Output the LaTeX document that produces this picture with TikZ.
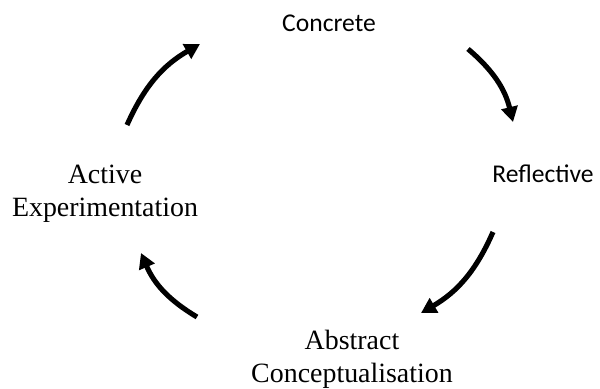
\documentclass[tikz,border=0pt]{standalone}
\usepackage{fontspec}
\setmainfont{Liberation Serif}
\newfontfamily\calfont{Carlito}
\usetikzlibrary{arrows.meta}
\begin{document}
\begin{tikzpicture}[x=0.43pt,y=0.43pt,>={Triangle[length=6.5pt,width=7pt]},
  stage/.style={inner sep=0pt,anchor=base,align=center,font=\fontsize{12}{14.6}\selectfont},
  cyc/.style={->,line width=2.2pt,bend left=18}]
\useasboundingbox (0,0) rectangle (600,389);
\node[stage,font=\calfont\fontsize{11}{13}\selectfont] (concrete) at (329,357) {Concrete};
\node[stage,font=\calfont\fontsize{11}{13}\selectfont] (reflective) at (543,206) {Reflective};
\node[stage] (abstract) at (352,6) {Abstract\\Conceptualisation};
\node[stage] (active) at (105,172) {Active\\Experimentation};
% arrow ends
\coordinate (a1) at (127,264); \coordinate (b1) at (200,345);
\coordinate (a2) at (468,340); \coordinate (b2) at (513,267);
\coordinate (a3) at (493,157); \coordinate (b3) at (421,76);
\coordinate (a4) at (197,72);  \coordinate (b4) at (141,136);
\draw[cyc] (a1) to (b1);
\draw[cyc] (a2) to (b2);
\draw[cyc] (a3) to (b3);
\draw[cyc] (a4) to (b4);
\end{tikzpicture}
\end{document}
